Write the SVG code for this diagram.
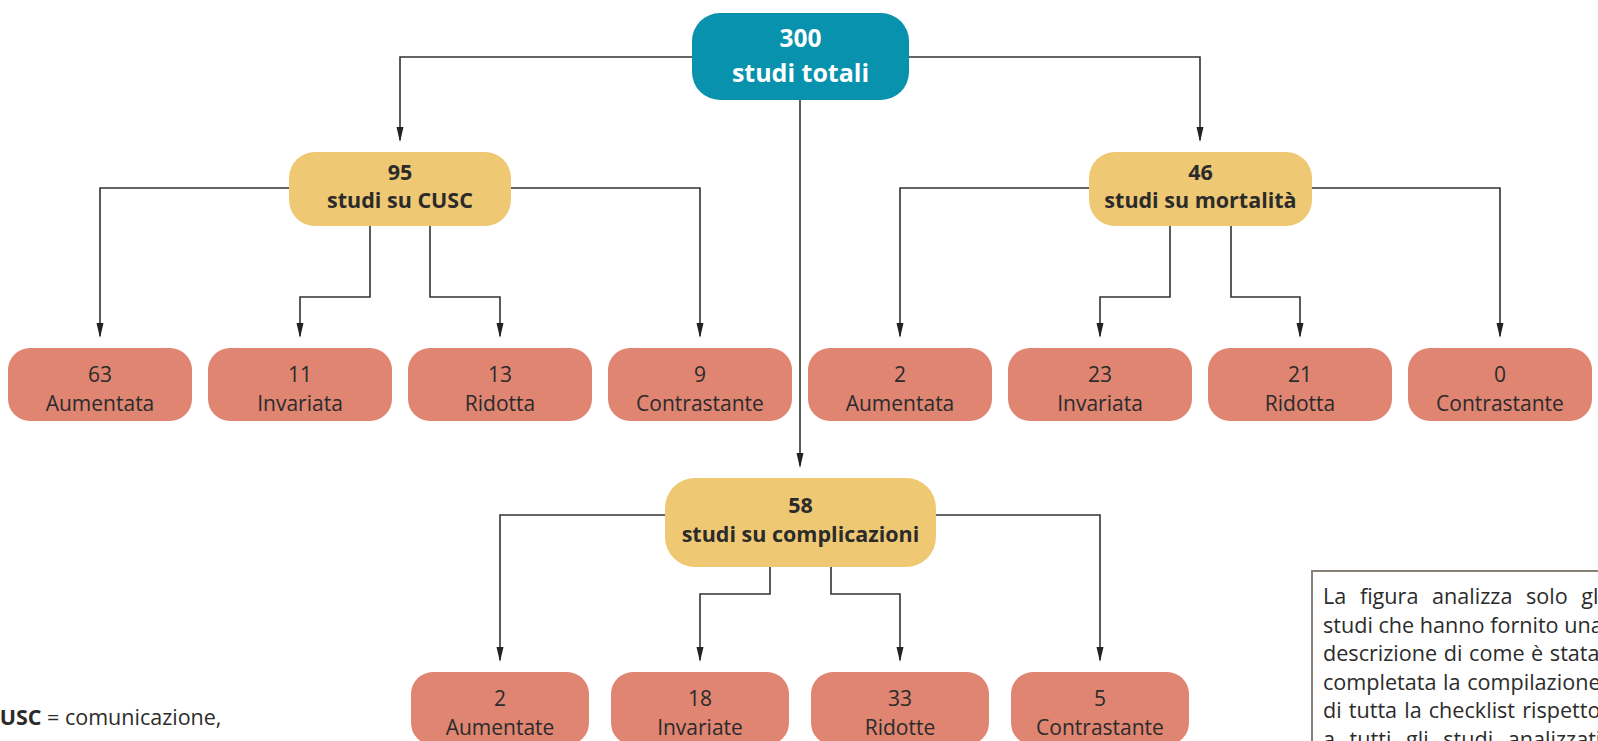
<svg xmlns="http://www.w3.org/2000/svg" width="1598" height="741" viewBox="0 0 1598 741">
<style>
.t{font-family:"Open Sans","Noto Sans","Liberation Sans",sans-serif;text-anchor:middle;fill:#2b2b2b}
.b{font-weight:bold}
.top{fill:#0892ae}
.yel{fill:#efc873}
.red{fill:#df8572}
.rl{font-size:21px}
.yl{font-size:21.5px;font-weight:bold}
.cn line,.cn polyline{fill:none;stroke:#333;stroke-width:1.6}
.arr{marker-end:url(#ah)}
.note{font-family:"Open Sans","Noto Sans","Liberation Sans",sans-serif;font-size:21.6px;fill:#2b2b2b}
</style>
<defs>
<marker id="ah" viewBox="0 -4 15 8" refX="13" refY="0" markerWidth="15" markerHeight="8" markerUnits="userSpaceOnUse" orient="auto">
<path d="M0,-3.5 L15,0 L0,3.5 z" fill="#222"/>
</marker>
</defs>
<rect width="1598" height="741" fill="#fff"/>
<g class="cn" id="connectors">
<polyline class="arr" points="692,57 400,57 400,140"/>
<polyline class="arr" points="909,57 1200,57 1200,140"/>
<polyline class="arr" points="800,100 800,466"/>
<polyline class="arr" points="289,188 100,188 100,336"/>
<polyline class="arr" points="511,188 700,188 700,336"/>
<polyline class="arr" points="370,226 370,297 300,297 300,336"/>
<polyline class="arr" points="430,226 430,297 500,297 500,336"/>
<polyline class="arr" points="1089,188 900,188 900,336"/>
<polyline class="arr" points="1312,188 1500,188 1500,336"/>
<polyline class="arr" points="1170,226 1170,297 1100,297 1100,336"/>
<polyline class="arr" points="1231,226 1231,297 1300,297 1300,336"/>
<polyline class="arr" points="665,515 500,515 500,660"/>
<polyline class="arr" points="936,515 1100,515 1100,660"/>
<polyline class="arr" points="770,567 770,594 700,594 700,660"/>
<polyline class="arr" points="831,567 831,594 900,594 900,660"/>
</g>
<g id="n-top">
<rect class="top" x="692" y="13" width="217" height="87" rx="28"/>
<text class="t b" x="800.5" y="47" font-size="24.5" style="fill:#fff">300</text>
<text class="t b" x="800.5" y="82" font-size="25" style="fill:#fff">studi totali</text>
</g>
<g id="n-cusc">
<rect class="yel" x="289" y="152" width="222" height="74" rx="26"/>
<text class="t yl" x="400" y="180">95</text>
<text class="t yl" x="400" y="208">studi su CUSC</text>
</g>
<g id="n-mort">
<rect class="yel" x="1089" y="152" width="223" height="74" rx="26"/>
<text class="t yl" x="1200.5" y="180">46</text>
<text class="t yl" x="1200.5" y="208">studi su mortalità</text>
</g>
<g id="n-compl">
<rect class="yel" x="665" y="478" width="271" height="89" rx="30"/>
<text class="t yl" x="800.5" y="513">58</text>
<text class="t yl" x="800.5" y="542">studi su complicazioni</text>
</g>
<g id="r1">
<rect class="red" x="8" y="348" width="184" height="73" rx="22"/>
<text class="t rl" x="100" y="382">63</text><text class="t rl" x="100" y="411">Aumentata</text>
</g>
<g id="r2">
<rect class="red" x="208" y="348" width="184" height="73" rx="22"/>
<text class="t rl" x="300" y="382">11</text><text class="t rl" x="300" y="411">Invariata</text>
</g>
<g id="r3">
<rect class="red" x="408" y="348" width="184" height="73" rx="22"/>
<text class="t rl" x="500" y="382">13</text><text class="t rl" x="500" y="411">Ridotta</text>
</g>
<g id="r4">
<rect class="red" x="608" y="348" width="184" height="73" rx="22"/>
<text class="t rl" x="700" y="382">9</text><text class="t rl" x="700" y="411">Contrastante</text>
</g>
<g id="r5">
<rect class="red" x="808" y="348" width="184" height="73" rx="22"/>
<text class="t rl" x="900" y="382">2</text><text class="t rl" x="900" y="411">Aumentata</text>
</g>
<g id="r6">
<rect class="red" x="1008" y="348" width="184" height="73" rx="22"/>
<text class="t rl" x="1100" y="382">23</text><text class="t rl" x="1100" y="411">Invariata</text>
</g>
<g id="r7">
<rect class="red" x="1208" y="348" width="184" height="73" rx="22"/>
<text class="t rl" x="1300" y="382">21</text><text class="t rl" x="1300" y="411">Ridotta</text>
</g>
<g id="r8">
<rect class="red" x="1408" y="348" width="184" height="73" rx="22"/>
<text class="t rl" x="1500" y="382">0</text><text class="t rl" x="1500" y="411">Contrastante</text>
</g>
<g id="c1">
<rect class="red" x="411" y="672" width="178" height="73" rx="22"/>
<text class="t rl" x="500" y="706">2</text><text class="t rl" x="500" y="735">Aumentate</text>
</g>
<g id="c2">
<rect class="red" x="611" y="672" width="178" height="73" rx="22"/>
<text class="t rl" x="700" y="706">18</text><text class="t rl" x="700" y="735">Invariate</text>
</g>
<g id="c3">
<rect class="red" x="811" y="672" width="178" height="73" rx="22"/>
<text class="t rl" x="900" y="706">33</text><text class="t rl" x="900" y="735">Ridotte</text>
</g>
<g id="c4">
<rect class="red" x="1011" y="672" width="178" height="73" rx="22"/>
<text class="t rl" x="1100" y="706">5</text><text class="t rl" x="1100" y="735">Contrastante</text>
</g>
<g id="legend">
<text class="note" x="-14" y="725" style="font-size:21.5px"><tspan font-weight="bold">CUSC</tspan> = comunicazione,</text>
</g>
<g id="notebox">
<rect x="1312" y="571" width="320" height="200" fill="#fff" stroke="#8a8175" stroke-width="2"/>
<text class="note" x="1323" y="604" word-spacing="8">La figura analizza solo gli</text>
<text class="note" x="1323" y="632.5" word-spacing="0">studi che hanno fornito una</text>
<text class="note" x="1323" y="661" word-spacing="1">descrizione di come è stata</text>
<text class="note" x="1323" y="689.5" word-spacing="1">completata la compilazione</text>
<text class="note" x="1323" y="718" word-spacing="1.5">di tutta la checklist rispetto</text>
<text class="note" x="1323" y="746.5" word-spacing="9">a tutti gli studi analizzati</text>
</g>
</svg>
